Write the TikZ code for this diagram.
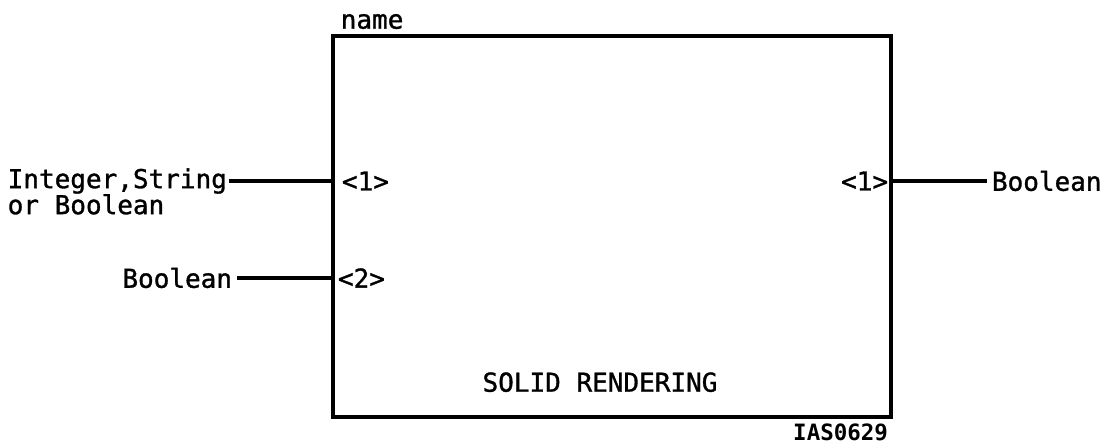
\documentclass[tikz,border=0pt]{standalone}
\usepackage{fontspec}
\newfontfamily\plotfont[FakeBold=1.2]{DejaVu Sans Mono}
\newfontfamily\tagfont{DejaVu Sans Mono Bold}
\usepackage{tikz}
\usetikzlibrary{positioning, calc}
\tikzset{
  fnbox/.style = {rectangle, draw, line width=0.1cm,
    minimum width=13.95cm, minimum height=9.525cm},
  lbl/.style   = {font=\plotfont\fontsize{18.5}{18.5}\selectfont},
  tag/.style   = {font=\tagfont\fontsize{16}{16}\selectfont},
  wire/.style  = {line width=0.1cm},
}
\begin{document}
\begin{tikzpicture}
  \useasboundingbox (0,0) rectangle (27.9,-11.2);

  % Function box
  \node[fnbox] (blk) at (15.3,-5.6625) {};
  \node[lbl, anchor=south west, xshift=0.12cm] (name) at (blk.north west) {name};
  \node[lbl, above=0.55cm of blk.south, xshift=-0.3cm] (title) {SOLID RENDERING};
  \node[tag, below left=0cm and 0cm of blk.south east] (figid) {IAS0629};

  % Pins
  \node[lbl, anchor=west, xshift=0.15cm] (in1) at (blk.west |- 0,-4.525) {<1>};
  \node[lbl, anchor=west, xshift=0.05cm] (in2) at (blk.west |- 0,-6.95) {<2>};
  \node[lbl, anchor=east] (out1) at (blk.east |- in1) {<1>};

  % Pin types
  \node[lbl, align=left, anchor=north east, inner xsep=1pt] (lin1)
    at ($(blk.west |- in1)+(-2.56,0.44)$) {Integer,String\\or Boolean};
  \node[lbl, anchor=east] (lin2) at ($(blk.west |- in2)+(-2.35,0)$) {Boolean};
  \node[lbl, anchor=west] (rout1) at ($(blk.east |- out1)+(2.35,0)$) {Boolean};

  % Wires
  \draw[wire] (lin1.east |- in1) -- (blk.west |- in1);
  \draw[wire] (lin2) -- (blk.west |- in2);
  \draw[wire] (blk.east |- out1) -- (rout1);

\end{tikzpicture}
\end{document}
